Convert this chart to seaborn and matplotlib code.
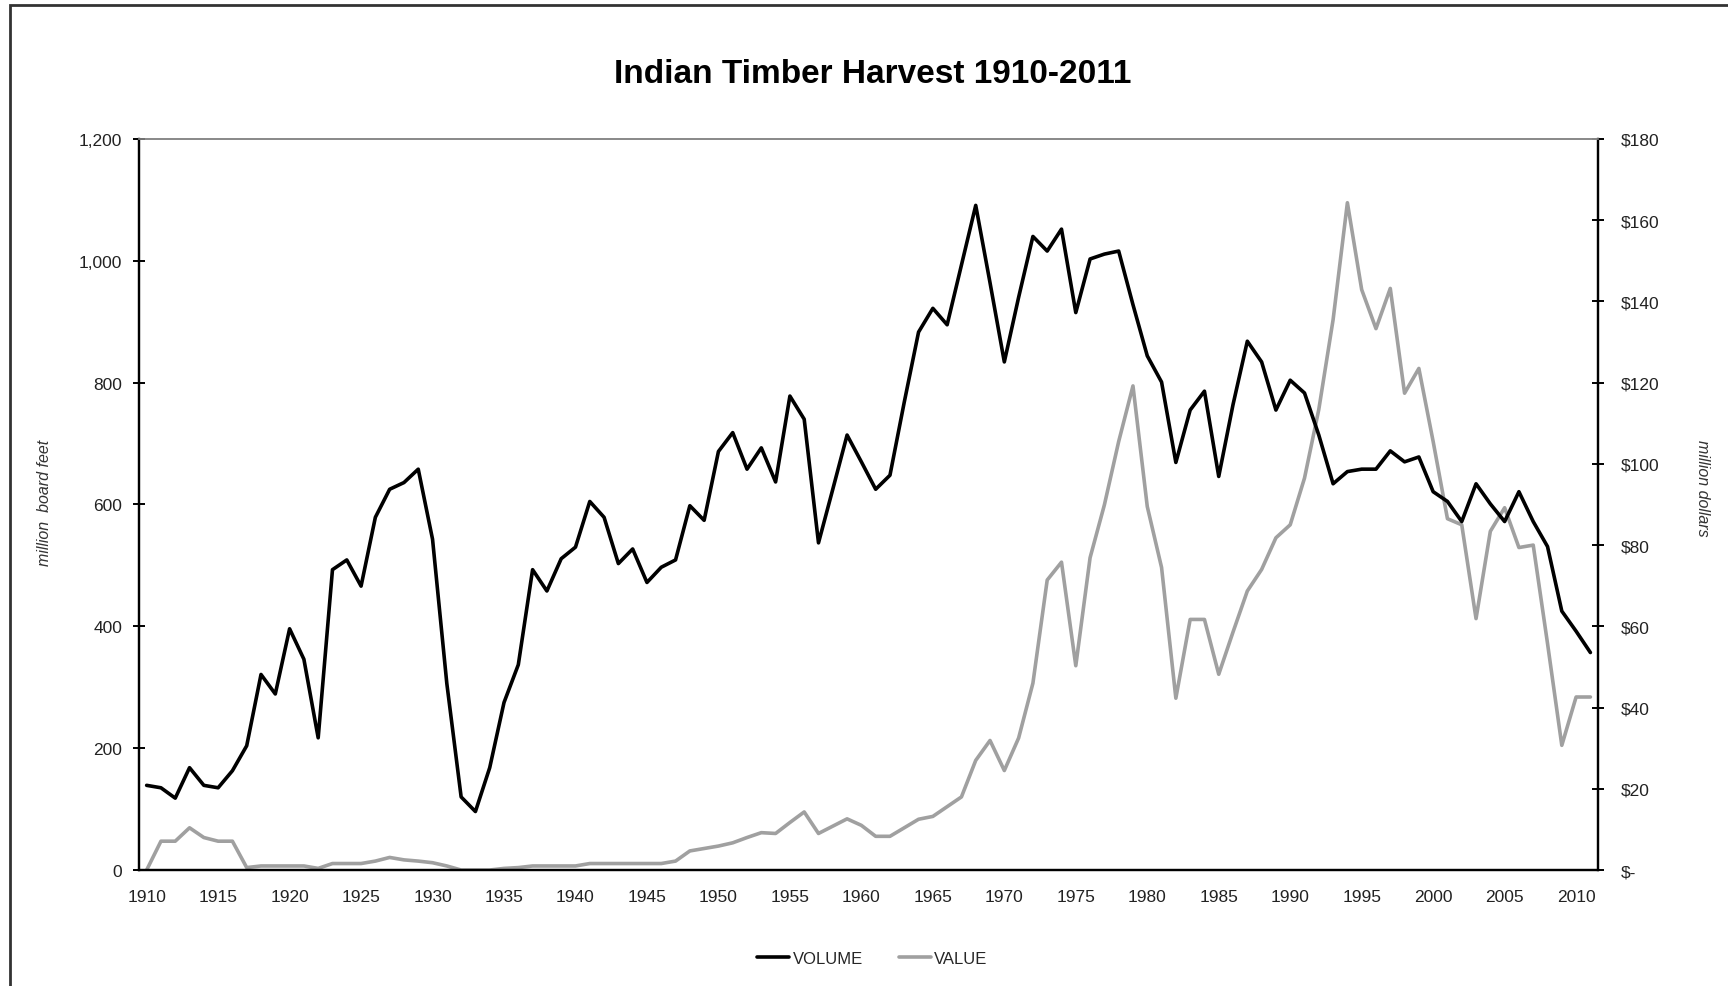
import matplotlib
matplotlib.use("Agg")
import matplotlib.pyplot as plt
import matplotlib.font_manager as fm
from matplotlib.patches import Rectangle
from matplotlib.ticker import FixedLocator, FuncFormatter
import seaborn as sns

# data
years = list(range(1910, 2012))

volume = [139, 135, 118, 168, 139, 135, 163, 204, 321, 289,
          396, 346, 217, 493, 509, 466, 579, 625, 636, 658,
          543, 306, 120, 96, 168, 275, 337, 493, 458, 511,
          530, 605, 579, 503, 527, 472, 497, 509, 598, 574,
          687, 718, 658, 693, 637, 778, 740, 537, 625, 714,
          670, 625, 648, 768, 883, 922, 895, 993, 1091, 964,
          834, 940, 1040, 1016, 1052, 915, 1003, 1011, 1016, 928,
          844, 801, 669, 755, 786, 646, 764, 868, 834, 755,
          804, 783, 714, 634, 654, 658, 658, 688, 670, 678,
          621, 605, 572, 634, 601, 572, 621, 572, 531, 425,
          392, 357]

value = [0, 7.1, 7.1, 10.4, 8.0, 7.1, 7.1, 0.6, 1.0, 1.0,
         1.0, 1.0, 0.4, 1.6, 1.6, 1.6, 2.2, 3.1, 2.5, 2.2,
         1.8, 1.0, 0, 0, 0, 0.4, 0.6, 1.0, 1.0, 1.0,
         1.0, 1.6, 1.6, 1.6, 1.6, 1.6, 1.6, 2.2, 4.7, 5.3,
         5.9, 6.7, 8.0, 9.2, 9.0, 11.7, 14.3, 9.0, 10.8, 12.6,
         11.0, 8.3, 8.3, 10.4, 12.5, 13.2, 15.6, 18.0, 27.0, 31.9,
         24.5, 32.5, 46.0, 71.4, 75.8, 50.3, 76.9, 89.9, 105.5, 119.2,
         89.5, 74.5, 42.3, 61.7, 61.7, 48.2, 58.6, 68.7, 74.0, 81.8,
         85.0, 96.5, 113.4, 135.5, 164.3, 142.9, 133.3, 143.2, 117.4, 123.5,
         105.5, 86.5, 85.0, 61.9, 83.4, 89.2, 79.4, 80.0, 55.8, 30.7,
         42.6, 42.6]

left_ticks = [0, 200, 400, 600, 800, 1000, 1200]
right_ticks = [0, 20, 40, 60, 80, 100, 120, 140, 160, 180]
year_labels = list(range(1910, 2011, 5))

sns.set_style("white")

# narrow font if there is one
names = {f.name for f in fm.fontManager.ttflist}
narrow = 'Liberation Sans Narrow' if 'Liberation Sans Narrow' in names else 'Liberation Sans'
plt.rcParams['font.family'] = [narrow, 'DejaVu Sans']

fig = plt.figure(figsize=(17.28, 9.87), dpi=100)
ax = fig.add_axes([0.0804, 0.1175, 0.8446, 0.7407])
ax2 = ax.twinx()

sns.lineplot(x=years, y=volume, ax=ax, color='black', linewidth=2.6, label='VOLUME', legend=False)
sns.lineplot(x=years, y=value, ax=ax2, color='#a0a0a0', linewidth=2.6, label='VALUE', legend=False)
ax.set_zorder(ax2.get_zorder() + 1)
ax.patch.set_visible(False)

ax.set_xlim(1909.46, 2011.56)
ax.set_ylim(0, 1200)
ax2.set_ylim(0, 180)

# x axis: labels on years, ticks between years
ax.xaxis.set_major_locator(FixedLocator(year_labels))
ax.xaxis.set_minor_locator(FixedLocator([y + 0.5 for y in range(1909, 2012)]))
ax.tick_params(axis='x', which='major', length=0, pad=14, labelsize=12.5, colors='#222222')
ax.tick_params(axis='x', which='minor', direction='inout', length=9, width=1.4, color='black')

ax.yaxis.set_major_locator(FixedLocator(left_ticks))
ax.yaxis.set_major_formatter(FuncFormatter(lambda v, p: '{:,.0f}'.format(v)))
ax.tick_params(axis='y', which='major', direction='inout', length=8, width=1.4, color='black',
               pad=8, labelsize=12.5, labelcolor='#222222', left=True)

ax2.yaxis.set_major_locator(FixedLocator(right_ticks))
ax2.yaxis.set_major_formatter(FuncFormatter(lambda v, p: '$-' if v == 0 else '${:.0f}'.format(v)))
ax2.tick_params(axis='y', which='major', direction='inout', length=8, width=1.4, color='black',
                pad=12, labelsize=12.5, labelcolor='#222222', right=True)

for a in (ax, ax2):
    for side in ('left', 'bottom', 'right'):
        a.spines[side].set_visible(True)
        a.spines[side].set_color('black')
        a.spines[side].set_linewidth(1.6)
    a.spines['top'].set_color('#888888')
    a.spines['top'].set_linewidth(1.2)
ax.grid(False)
ax2.grid(False)

# formatting
fig.text(0.505, 0.925, 'Indian Timber Harvest 1910-2011', ha='center', va='center',
         fontsize=24, fontweight='bold', color='black')
fig.text(0.026, 0.49, 'million  board feet', rotation=90, ha='center', va='center',
         fontsize=11.5, style='italic', color='#333333')
fig.text(0.985, 0.505, 'million dollars', rotation=270, ha='center', va='center',
         fontsize=11.5, style='italic', color='#333333')

h1, l1 = ax.get_legend_handles_labels()
h2, l2 = ax2.get_legend_handles_labels()
fig.legend(h1 + h2, l1 + l2, loc='center', bbox_to_anchor=(0.505, 0.028), ncol=2,
           frameon=False, fontsize=12, handlelength=1.9, handletextpad=0.2, columnspacing=2.2)

# frame round the chart
fig.patches.append(Rectangle((10 / 1728, -0.1), 1.2, 1.1 - 6 / 987, transform=fig.transFigure,
                             fill=False, edgecolor='#333333', linewidth=2, clip_on=False))

plt.savefig('out.png', dpi=100)
